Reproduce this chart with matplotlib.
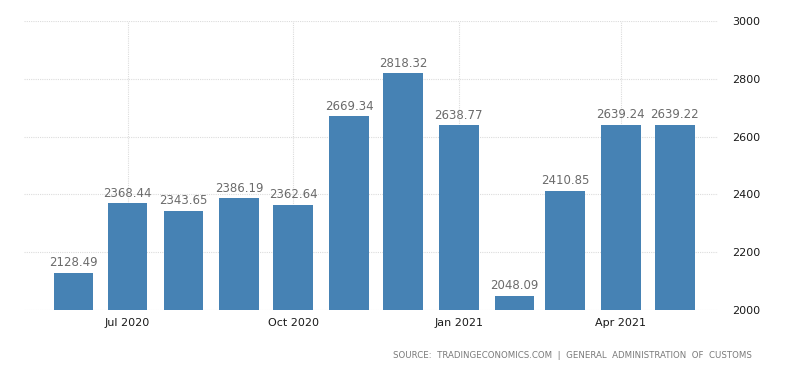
import matplotlib
matplotlib.use("Agg")
import matplotlib.pyplot as plt
import matplotlib.dates as mdates
import numpy as np
import datetime as dt

months = ["2020-06", "2020-07", "2020-08", "2020-09", "2020-10", "2020-11",
          "2020-12", "2021-01", "2021-02", "2021-03", "2021-04", "2021-05"]
values = [2128.49, 2368.44, 2343.65, 2386.19, 2362.64, 2669.34,
          2818.32, 2638.77, 2048.09, 2410.85, 2639.24, 2639.22]
xtick_months = ["2020-07", "2020-10", "2021-01", "2021-04"]
xtick_labels = ["Jul 2020", "Oct 2020", "Jan 2021", "Apr 2021"]
yticks = [2000, 2200, 2400, 2600, 2800, 3000]
source = "SOURCE:  TRADINGECONOMICS.COM  |  GENERAL  ADMINISTRATION  OF  CUSTOMS"

def to_date(s):
    y, m = s.split("-")
    return dt.date(int(y), int(m), 1)

xd = mdates.date2num([to_date(m) for m in months])
xt = mdates.date2num([to_date(m) for m in xtick_months])

fig = plt.figure(figsize=(8, 3.73), dpi=100)
ax = fig.add_axes([0.03, 0.169, 0.8675, 0.775])

ax.bar(xd, [v - 2000 for v in values], bottom=2000, width=22, color="#4682b4",
       zorder=3)
for x, v in zip(xd, values):
    ax.text(x, v + 13, f"{v:.2f}", ha="center", va="bottom", fontsize=8.5,
            color="#6b6b6b", zorder=4)

ax.set_ylim(2000, 3000)
ax.set_xlim(xd[0] - 27.5, xd[-1] + 24)
ax.yaxis.tick_right()
ax.set_yticks(yticks)
ax.set_yticklabels([str(t) for t in yticks], fontsize=8, color="#1a1a1a")
ax.set_xticks(xt)
ax.set_xticklabels(xtick_labels, fontsize=8, color="#1a1a1a")
ax.tick_params(axis="both", length=0)
ax.tick_params(axis="y", pad=10)
ax.tick_params(axis="x", pad=6)
for s in ax.spines.values():
    s.set_visible(False)
ax.grid(True, color="#dcdcdc", linestyle=(0, (1, 1)), linewidth=0.8, zorder=0)

fig.text(0.94, 0.035, source, ha="right", va="bottom", fontsize=6.2,
         color="#7a7a7a")

fig.savefig("out.png", dpi=100)
